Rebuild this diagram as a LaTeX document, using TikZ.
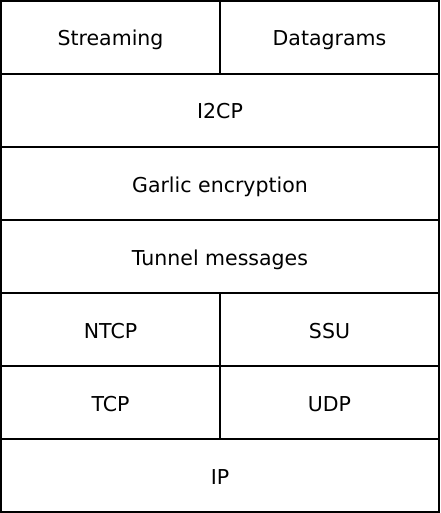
\documentclass[tikz,border=0pt]{standalone}
\usepackage{fontspec}
\setmainfont{DejaVu Sans}
\begin{document}
\begin{tikzpicture}[x=1pt,y=-1pt,
  layer/.style={draw=black, line width=2pt, rectangle, inner sep=0pt,
    text height=22pt, text depth=5pt,
    minimum height=73pt, font=\fontsize{20.5}{24}\selectfont},
  full/.style={layer, minimum width=438pt},
  half/.style={layer, minimum width=219pt}]
  \useasboundingbox (0,0) rectangle (440,513);
  \node[half] (streaming) at (110.5,37.5) {Streaming};
  \node[half] (datagrams) at (329.5,37.5) {Datagrams};
  \node[full] (i2cp) at (220,110.5) {I2CP};
  \node[full] (garlic) at (220,183.5) {Garlic encryption};
  \node[full] (tunnel) at (220,256.5) {Tunnel messages};
  \node[half] (ntcp) at (110.5,329.5) {NTCP};
  \node[half] (ssu) at (329.5,329.5) {SSU};
  \node[half] (tcp) at (110.5,402.5) {TCP};
  \node[half] (udp) at (329.5,402.5) {UDP};
  \node[full] (ip) at (220,475.5) {IP};
\end{tikzpicture}
\end{document}
